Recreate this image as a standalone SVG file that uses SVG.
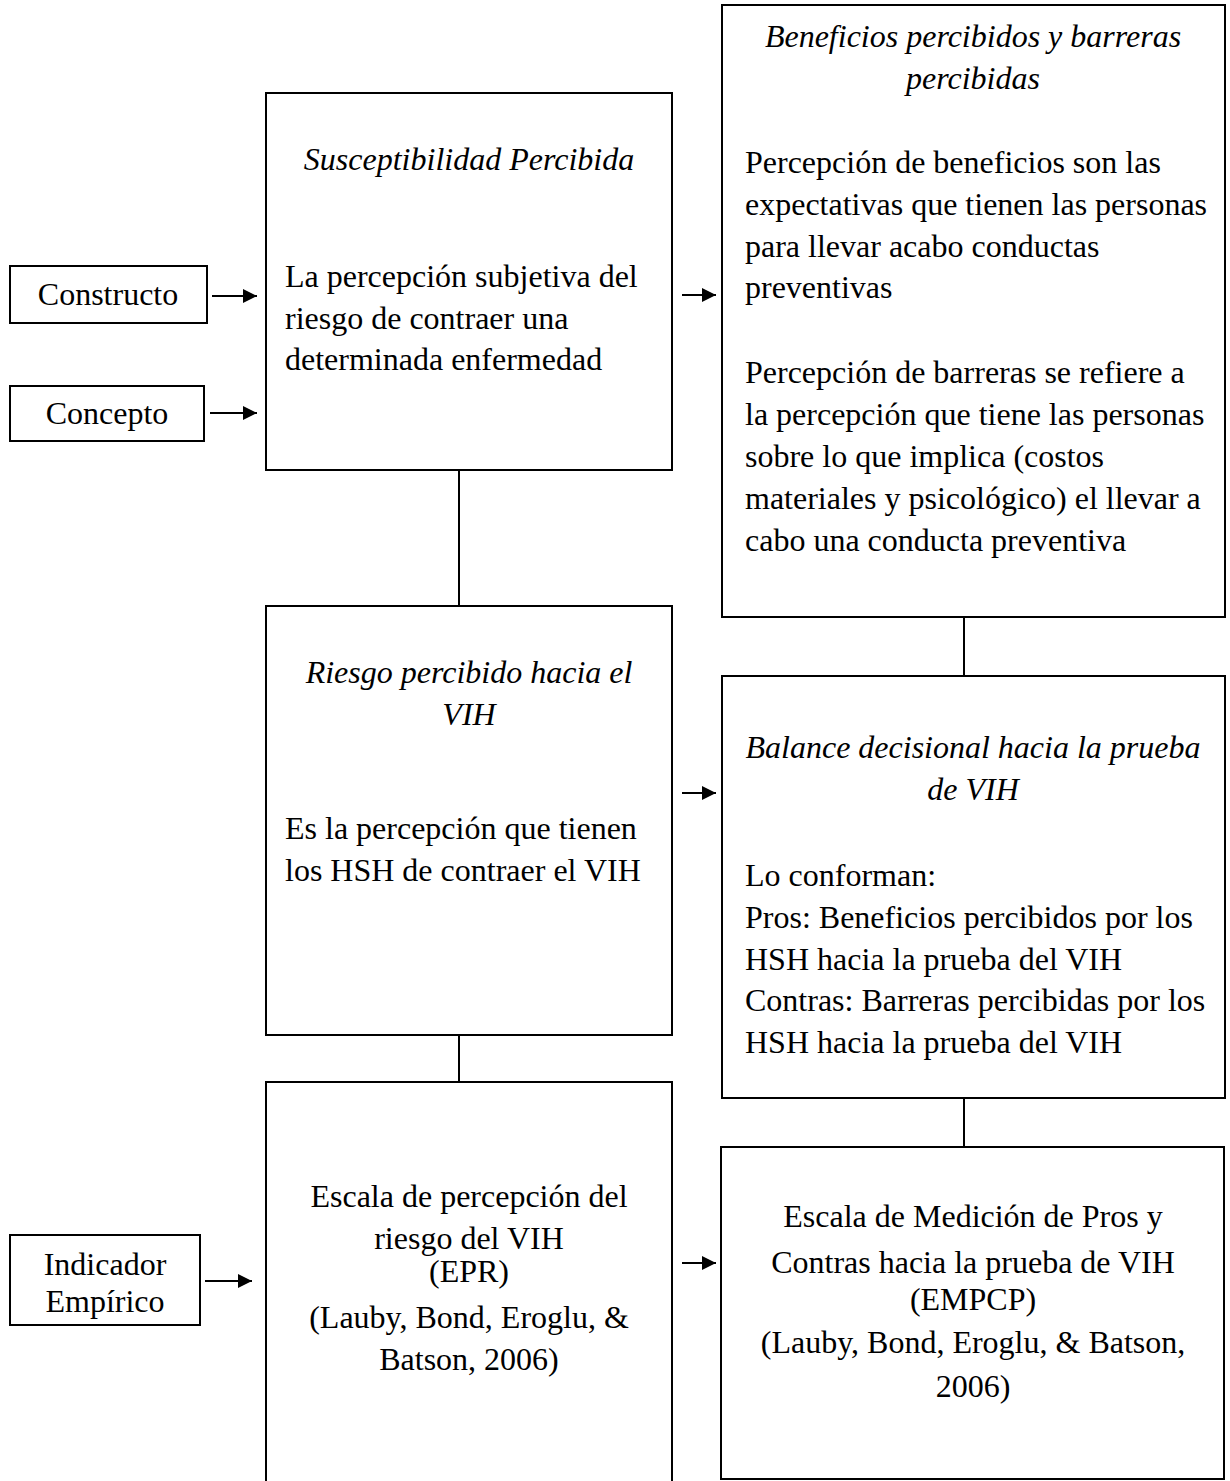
<svg xmlns="http://www.w3.org/2000/svg" width="1230" height="1481" viewBox="0 0 1230 1481">
<style>
.box{fill:#fff;stroke:#000;stroke-width:2}
.t{font-family:"Liberation Serif","Times New Roman",serif;font-size:32px;fill:#000}
.c{text-anchor:middle}
.i{font-style:italic}
.ln{stroke:#000;stroke-width:2;fill:none}
</style>
<defs>
<marker id="ah" viewBox="0 0 14 14" refX="14" refY="7" markerWidth="14" markerHeight="14" markerUnits="userSpaceOnUse" orient="auto">
<path d="M0,0 L14,7 L0,14 z" fill="#000"/>
</marker>
</defs>
<rect width="1230" height="1481" fill="#fff"/>
<g id="connectors">
<line class="ln" x1="459" y1="470" x2="459" y2="606"/>
<line class="ln" x1="459" y1="1035" x2="459" y2="1082"/>
<line class="ln" x1="964" y1="617" x2="964" y2="676"/>
<line class="ln" x1="964" y1="1098" x2="964" y2="1147"/>
<line class="ln" x1="212" y1="296" x2="257" y2="296" marker-end="url(#ah)"/>
<line class="ln" x1="210" y1="413" x2="257" y2="413" marker-end="url(#ah)"/>
<line class="ln" x1="205" y1="1281" x2="252" y2="1281" marker-end="url(#ah)"/>
<line class="ln" x1="682" y1="295" x2="716" y2="295" marker-end="url(#ah)"/>
<line class="ln" x1="682" y1="793" x2="716" y2="793" marker-end="url(#ah)"/>
<line class="ln" x1="682" y1="1263" x2="716" y2="1263" marker-end="url(#ah)"/>
</g>
<g id="constructo">
<rect class="box" x="10" y="266" width="197" height="57"/>
<text class="t c" x="108" y="305">Constructo</text>
</g>
<g id="concepto">
<rect class="box" x="10" y="386" width="194" height="55"/>
<text class="t c" x="107" y="424">Concepto</text>
</g>
<g id="indicador">
<rect class="box" x="10" y="1235" width="190" height="90"/>
<text class="t c" x="105" y="1275">Indicador</text>
<text class="t c" x="105" y="1312">Empírico</text>
</g>
<g id="susceptibilidad">
<rect class="box" x="266" y="93" width="406" height="377"/>
<text class="t c i" x="469" y="170">Susceptibilidad Percibida</text>
<text class="t" x="285" y="287">La percepción subjetiva del</text>
<text class="t" x="285" y="329">riesgo de contraer una</text>
<text class="t" x="285" y="370">determinada enfermedad</text>
</g>
<g id="riesgo">
<rect class="box" x="266" y="606" width="406" height="429"/>
<text class="t c i" x="469" y="683">Riesgo percibido hacia el</text>
<text class="t c i" x="469" y="725">VIH</text>
<text class="t" x="285" y="839">Es la percepción que tienen</text>
<text class="t" x="285" y="881">los HSH de contraer el VIH</text>
</g>
<g id="escala-epr">
<path class="box" d="M266,1490 L266,1082 L672,1082 L672,1490"/>
<text class="t c" x="469" y="1207">Escala de percepción del</text>
<text class="t c" x="469" y="1249">riesgo del VIH</text>
<text class="t c" x="469" y="1282">(EPR)</text>
<text class="t c" x="469" y="1328">(Lauby, Bond, Eroglu, &amp;</text>
<text class="t c" x="469" y="1370">Batson, 2006)</text>
</g>
<g id="beneficios">
<rect class="box" x="722" y="5" width="503" height="612"/>
<text class="t c i" x="973" y="47">Beneficios percibidos y barreras</text>
<text class="t c i" x="973" y="89">percibidas</text>
<text class="t" x="745" y="173">Percepción de beneficios son las</text>
<text class="t" x="745" y="215">expectativas que tienen las personas</text>
<text class="t" x="745" y="257">para llevar acabo conductas</text>
<text class="t" x="745" y="298">preventivas</text>
<text class="t" x="745" y="383">Percepción de barreras se refiere a</text>
<text class="t" x="745" y="425">la percepción que tiene las personas</text>
<text class="t" x="745" y="467">sobre lo que implica (costos</text>
<text class="t" x="745" y="509">materiales y psicológico) el llevar a</text>
<text class="t" x="745" y="551">cabo una conducta preventiva</text>
</g>
<g id="balance">
<rect class="box" x="722" y="676" width="503" height="422"/>
<text class="t c i" x="973" y="758">Balance decisional hacia la prueba</text>
<text class="t c i" x="973" y="800">de VIH</text>
<text class="t" x="745" y="886">Lo conforman:</text>
<text class="t" x="745" y="928">Pros: Beneficios percibidos por los</text>
<text class="t" x="745" y="970">HSH hacia la prueba del VIH</text>
<text class="t" x="745" y="1011">Contras: Barreras percibidas por los</text>
<text class="t" x="745" y="1053">HSH hacia la prueba del VIH</text>
</g>
<g id="escala-empcp">
<rect class="box" x="721" y="1147" width="503" height="332"/>
<text class="t c" x="973" y="1227">Escala de Medición de Pros y</text>
<text class="t c" x="973" y="1273">Contras hacia la prueba de VIH</text>
<text class="t c" x="973" y="1310">(EMPCP)</text>
<text class="t c" x="973" y="1353">(Lauby, Bond, Eroglu, &amp; Batson,</text>
<text class="t c" x="973" y="1397">2006)</text>
</g>
</svg>
